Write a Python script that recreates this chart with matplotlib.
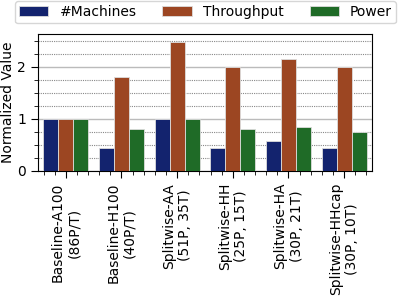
import numpy as np
import matplotlib
matplotlib.use("Agg")
import matplotlib.pyplot as plt
from matplotlib.ticker import MultipleLocator

# ---------- data ----------
configs = ["Baseline-A100\n(86P/T)", "Baseline-H100\n(40P/T)",
           "Splitwise-AA\n(51P, 35T)", "Splitwise-HH\n(25P, 15T)",
           "Splitwise-HA\n(30P, 21T)", "Splitwise-HHcap\n(30P, 10T)"]
machines   = [1.0, 0.45, 1.0, 0.45, 0.58, 0.45]
throughput = [1.0, 1.81, 2.48, 2.0, 2.15, 2.0]
power      = [1.0, 0.81, 1.0, 0.81, 0.85, 0.74]

series = [("#Machines", machines, "#13236e"),
          ("Throughput", throughput, "#9c4622"),
          ("Power", power, "#1f6b27")]

plt.rcParams["font.size"] = 10

fig = plt.figure(figsize=(3.98, 3.01), dpi=100)
ax = fig.add_axes([0.0955, 0.432, 0.839, 0.455])

x = np.arange(len(configs))
w = 0.27
for i, (name, vals, col) in enumerate(series):
    ax.bar(x + (i - 1) * w, vals, w, color=col, edgecolor="#dddddd",
           linewidth=0.6, label=name, zorder=3)

ax.set_xlim(-0.5, 5.5)
ax.set_ylim(0, 2.63)
ax.set_xticks(x)
ax.set_xticklabels(configs, rotation=90, ha="center", multialignment="center")
ax.xaxis.set_minor_locator(MultipleLocator(0.2))
ax.set_yticks([0, 1, 2])
ax.yaxis.set_minor_locator(MultipleLocator(0.25))
ax.tick_params(axis="both", which="major", length=5)
ax.tick_params(axis="both", which="minor", length=3)
ax.grid(axis="y", which="major", color="#bbbbbb", linewidth=1.0, zorder=0)
ax.grid(axis="y", which="minor", color="#888888", linestyle=(0, (1, 1)),
        linewidth=0.8, zorder=0)
ax.set_ylabel("Normalized Value", labelpad=2)

fig.legend(loc="upper left", ncol=3, mode="expand",
           bbox_to_anchor=(15 / 398, 0, 381 / 398, 1 - 1 / 301),
           borderaxespad=0, frameon=True, fontsize=10, handlelength=2.1,
           borderpad=0.3, edgecolor="#cccccc")

fig.savefig("out.png", dpi=100)
